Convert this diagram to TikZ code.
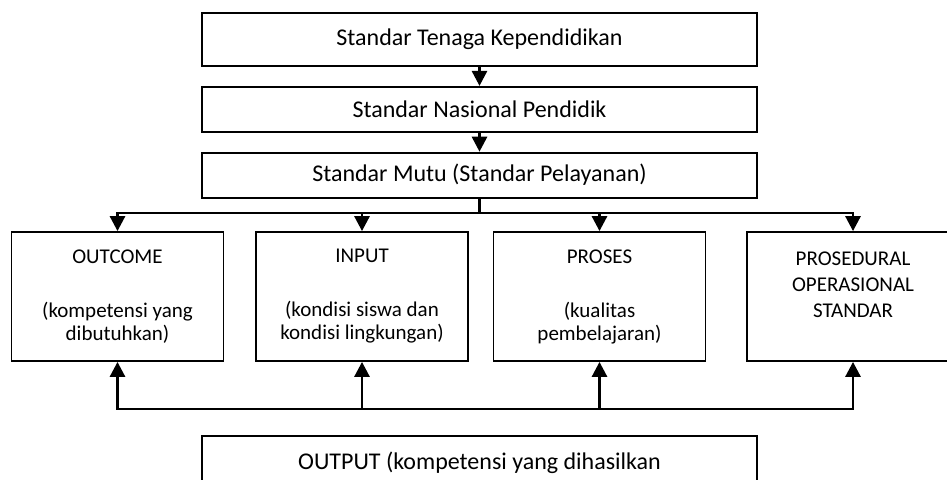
\documentclass[tikz,border=0pt]{standalone}
\usepackage{fontspec}
\setmainfont{Carlito}
\usetikzlibrary{arrows.meta,positioning}
\tikzset{stdbox/.style={rectangle, draw=black, line width=1.8pt, minimum width=555pt, align=center, font=\fontsize{24}{28}\selectfont}}
\tikzset{unitbox/.style={rectangle, draw=black, line width=1.8pt, minimum width=212pt, minimum height=129pt, align=center, font=\fontsize{21}{23}\selectfont, execute at begin node=\setlength{\baselineskip}{23pt}}}
\tikzset{link/.style={line width=2.8pt}, arr/.style={link, -{Triangle[width=15pt,length=15pt]}}}

\begin{document}
\begin{tikzpicture}[x=1pt,y=-1pt]
\clip (0,0) rectangle (947,479);
\node[stdbox, minimum height=53pt] (tenaga) at (479.5,39.5) {Standar Tenaga Kependidikan};
\node[stdbox, minimum height=45pt, below=19pt of tenaga] (nasional) {Standar Nasional Pendidik};
\node[stdbox, minimum height=45pt, below=19pt of nasional] (mutu) {Standar Mutu (Standar Pelayanan)};
\node[unitbox] (outcome) at (117.5,296.5) {OUTCOME\\[31pt](kompetensi yang\\dibutuhkan)};
\node[unitbox] (input) at (362,296.5) {INPUT\\[31pt](kondisi siswa dan\\kondisi lingkungan)};
\node[unitbox] (proses) at (599.5,296.5) {PROSES\\[31pt](kualitas\\pembelajaran)};
\node[unitbox, execute at begin node=\setlength{\baselineskip}{26pt}, text depth=24pt] (pos) at (853,296.5) {PROSEDURAL\\OPERASIONAL\\STANDAR};
\node[stdbox, minimum height=54pt, anchor=north] (output) at (479.5,435) {OUTPUT (kompetensi yang dihasilkan};
\draw[arr] (tenaga) -- (nasional);
\draw[arr] (nasional) -- (mutu);
\coordinate (fork) at (mutu.south |- 0,213);
\coordinate (back) at (mutu.south |- 0,409);
\draw[link] (mutu.south) -- (fork);
\foreach \n in {outcome,input,proses,pos}
  \draw[arr] (fork) -| (\n.north);
\foreach \n in {outcome,input,proses,pos}
  \draw[arr] (back) -| (\n.south);
\end{tikzpicture}
\end{document}
